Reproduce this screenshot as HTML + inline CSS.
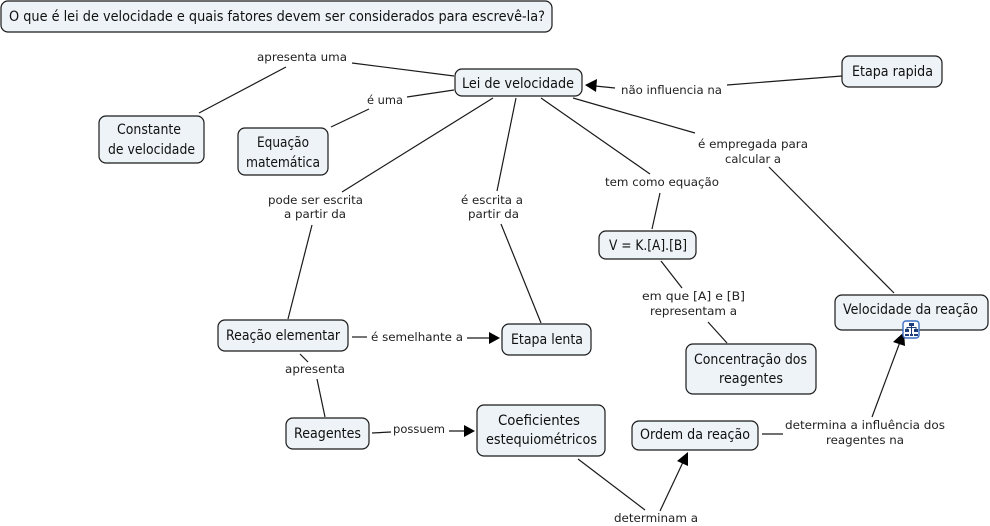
<!DOCTYPE html>
<html><head><meta charset="utf-8">
<style>
html,body{margin:0;padding:0;background:#fff;width:990px;height:526px;overflow:hidden}
svg{display:block}
.n{font:14px "DejaVu Sans","Liberation Sans",sans-serif;fill:#111}
.l{font:11.5px "DejaVu Sans","Liberation Sans",sans-serif;fill:#222}
rect.b{fill:#edf3f6;stroke:#1a1a1a;stroke-width:1.2}
line{stroke:#1a1a1a;stroke-width:1.2}
polygon{fill:#000}
</style></head><body>
<svg width="990" height="526" viewBox="0 0 990 526" xmlns="http://www.w3.org/2000/svg">
<g>
<line x1="352" y1="63" x2="454" y2="76"/><line x1="286" y1="67" x2="199" y2="113"/>
<line x1="407" y1="97" x2="454" y2="90"/><line x1="369" y1="109" x2="331" y2="127"/>
<line x1="493" y1="98" x2="342" y2="192"/><line x1="312" y1="225" x2="288" y2="319"/>
<line x1="516" y1="98" x2="497" y2="191"/><line x1="501" y1="224" x2="541" y2="323"/>
<line x1="541" y1="98" x2="650" y2="174"/><line x1="660" y1="193" x2="652" y2="229"/>
<line x1="573" y1="98" x2="695" y2="133"/><line x1="769" y1="167" x2="894" y2="293"/>
<line x1="842" y1="76" x2="727" y2="85"/><line x1="615" y1="88" x2="595" y2="86"/>
<line x1="661" y1="261" x2="682" y2="288"/><line x1="708" y1="322" x2="727" y2="343"/>
<line x1="352" y1="337" x2="367" y2="337"/><line x1="467" y1="338" x2="490" y2="338"/>
<line x1="300" y1="354" x2="308" y2="362"/><line x1="317" y1="379" x2="325" y2="417"/>
<line x1="372" y1="433" x2="391" y2="432"/><line x1="449" y1="431" x2="466" y2="431"/>
<line x1="578" y1="459" x2="645" y2="510"/><line x1="660" y1="511" x2="684" y2="460"/>
<line x1="762" y1="434" x2="783" y2="434"/><line x1="872" y1="417" x2="900" y2="342"/>
<polygon points="585,85 597,79 596,92"/>
<polygon points="500,338 489,332 489,344"/>
<polygon points="475,431 464,425 464,437"/>
<polygon points="688,452 688,466 677,461"/>
<polygon points="904,332 905,346 893,342"/>
</g>
<rect class="b" x="1" y="1" width="551" height="31" rx="7"/>
<rect class="b" x="455" y="69" width="127" height="27" rx="7"/>
<rect class="b" x="99" y="116" width="105" height="47" rx="7"/>
<rect class="b" x="238" y="128" width="90" height="47" rx="7"/>
<rect class="b" x="842" y="56" width="100" height="31" rx="7"/>
<rect class="b" x="599" y="231" width="97" height="28" rx="7"/>
<rect class="b" x="835" y="295" width="153" height="35" rx="7"/>
<rect class="b" x="686" y="344" width="130" height="50" rx="7"/>
<rect class="b" x="218" y="320" width="130" height="31" rx="7"/>
<rect class="b" x="502" y="324" width="89" height="31" rx="7"/>
<rect class="b" x="286" y="418" width="83" height="31" rx="7"/>
<rect class="b" x="477" y="405" width="128" height="51" rx="7"/>
<rect class="b" x="632" y="421" width="126" height="29" rx="7"/>
<g>
<rect x="903" y="321" width="16" height="17" rx="3" fill="#fff" stroke="#3b6fc4" stroke-width="1.4"/>
<rect x="909" y="323" width="5" height="3" fill="#1c3c7a"/>
<rect x="905" y="329" width="4" height="3" fill="#1c3c7a"/><rect x="914" y="329" width="4" height="3" fill="#1c3c7a"/>
<rect x="905" y="334" width="4" height="2" fill="#1c3c7a"/><rect x="910" y="334" width="3" height="2" fill="#1c3c7a"/><rect x="914" y="334" width="4" height="2" fill="#1c3c7a"/>
<path d="M911.500 326v8M907 329v-1.500h9v1.500" fill="none" stroke="#1c3c7a" stroke-width="1"/>
</g>
<g class="n" lengthAdjust="spacingAndGlyphs">
<text class="n" x="9" y="21" textLength="536" lengthAdjust="spacingAndGlyphs">O que é lei de velocidade e quais fatores devem ser considerados para escrevê-la?</text>
<text class="n" x="462" y="88" textLength="112" lengthAdjust="spacingAndGlyphs">Lei de velocidade</text>
<text class="n" x="117" y="134" textLength="64" lengthAdjust="spacingAndGlyphs">Constante</text>
<text class="n" x="108" y="154" textLength="87" lengthAdjust="spacingAndGlyphs">de velocidade</text>
<text class="n" x="257" y="147" textLength="52" lengthAdjust="spacingAndGlyphs">Equação</text>
<text class="n" x="246" y="167" textLength="74" lengthAdjust="spacingAndGlyphs">matemática</text>
<text class="n" x="852" y="76" textLength="81" lengthAdjust="spacingAndGlyphs">Etapa rapida</text>
<text class="n" x="609" y="250" textLength="78" lengthAdjust="spacingAndGlyphs">V = K.[A].[B]</text>
<text class="n" x="843" y="314" textLength="135" lengthAdjust="spacingAndGlyphs">Velocidade da reação</text>
<text class="n" x="694" y="364" textLength="113" lengthAdjust="spacingAndGlyphs">Concentração dos</text>
<text class="n" x="719" y="383" textLength="64" lengthAdjust="spacingAndGlyphs">reagentes</text>
<text class="n" x="640" y="439" textLength="110" lengthAdjust="spacingAndGlyphs">Ordem da reação</text>
<text class="n" x="226" y="340" textLength="114" lengthAdjust="spacingAndGlyphs">Reação elementar</text>
<text class="n" x="511" y="344" textLength="72" lengthAdjust="spacingAndGlyphs">Etapa lenta</text>
<text class="n" x="294" y="438" textLength="67" lengthAdjust="spacingAndGlyphs">Reagentes</text>
<text class="n" x="498" y="425" textLength="82" lengthAdjust="spacingAndGlyphs">Coeficientes</text>
<text class="n" x="486" y="444" textLength="111" lengthAdjust="spacingAndGlyphs">estequiométricos</text>
</g>
<g>
<text class="l" x="257" y="61" textLength="90" lengthAdjust="spacingAndGlyphs">apresenta uma</text>
<text class="l" x="367" y="104" textLength="36" lengthAdjust="spacingAndGlyphs">é uma</text>
<text class="l" x="621" y="94" textLength="101" lengthAdjust="spacingAndGlyphs">não influencia na</text>
<text class="l" x="698" y="148" textLength="110" lengthAdjust="spacingAndGlyphs">é empregada para</text>
<text class="l" x="725" y="163" textLength="56" lengthAdjust="spacingAndGlyphs">calcular a</text>
<text class="l" x="605" y="186" textLength="114" lengthAdjust="spacingAndGlyphs">tem como equação</text>
<text class="l" x="642" y="300" textLength="103" lengthAdjust="spacingAndGlyphs">em que [A] e [B]</text>
<text class="l" x="650" y="315" textLength="87" lengthAdjust="spacingAndGlyphs">representam a</text>
<text class="l" x="371" y="341" textLength="92" lengthAdjust="spacingAndGlyphs">é semelhante a</text>
<text class="l" x="285" y="373" textLength="60" lengthAdjust="spacingAndGlyphs">apresenta</text>
<text class="l" x="393" y="433" textLength="52" lengthAdjust="spacingAndGlyphs">possuem</text>
<text class="l" x="785" y="429" textLength="160" lengthAdjust="spacingAndGlyphs">determina a influência dos</text>
<text class="l" x="826" y="444" textLength="78" lengthAdjust="spacingAndGlyphs">reagentes na</text>
<text class="l" x="614" y="522" textLength="84" lengthAdjust="spacingAndGlyphs">determinam a</text>
<text class="l" x="461" y="204" textLength="62" lengthAdjust="spacingAndGlyphs">é escrita a</text>
<text class="l" x="468" y="218" textLength="51" lengthAdjust="spacingAndGlyphs">partir da</text>
<text class="l" x="268" y="204" textLength="95" lengthAdjust="spacingAndGlyphs">pode ser escrita</text>
<text class="l" x="284" y="218" textLength="62" lengthAdjust="spacingAndGlyphs">a partir da</text>
</g>
</svg>
</body></html>
